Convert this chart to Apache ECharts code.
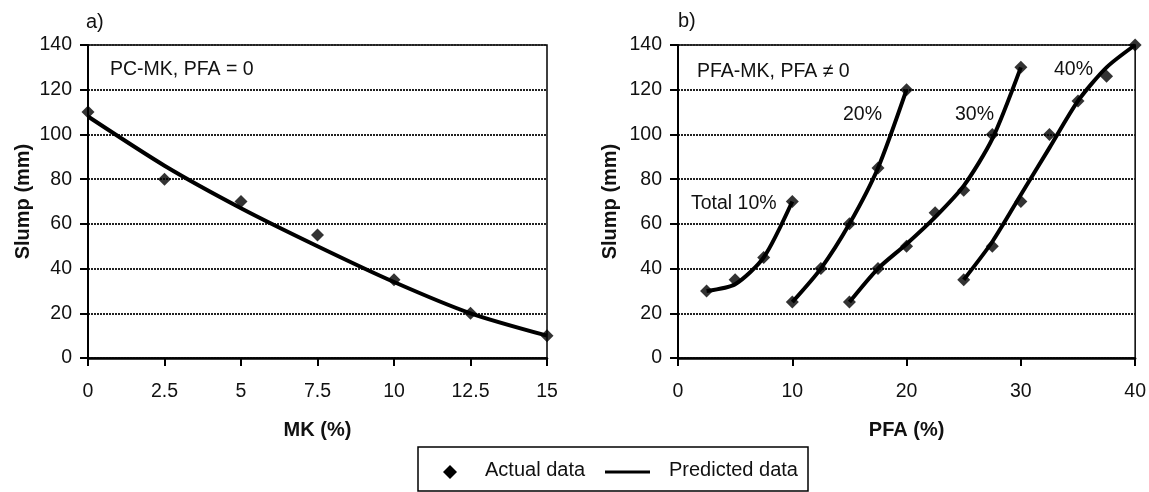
<!DOCTYPE html>
<html>
<head>
<meta charset="utf-8">
<script src="https://cdn.jsdelivr.net/npm/echarts@6/dist/echarts.min.js"></script>
<style>
html,body{margin:0;padding:0;background:#fff;}
#c{width:1149px;height:492px;}
</style>
</head>
<body>
<div id="c"></div>
<script>
// ---------- data ----------
// (a) PC-MK, PFA = 0
const mkX = [0, 2.5, 5, 7.5, 10, 12.5, 15];
const mkActual = [110, 80, 70, 55, 35, 20, 10];
const mkPredicted = [108, 86, 67, 50, 34, 20, 10];

// (b) PFA-MK, PFA != 0
const t10X = [2.5, 5, 7.5, 10];
const t10Actual = [30, 35, 45, 70];
const t10Predicted = [30, 33, 45, 70];

const t20X = [10, 12.5, 15, 17.5, 20];
const t20Actual = [25, 40, 60, 85, 120];
const t20Predicted = [25, 40, 60, 85, 120];

const t30X = [15, 17.5, 20, 22.5, 25, 27.5, 30];
const t30Actual = [25, 40, 50, 65, 75, 100, 130];
const t30Predicted = [25, 40, 51, 63, 77, 98, 130];

const t40X = [25, 27.5, 30, 32.5, 35, 37.5, 40];
const t40Actual = [35, 50, 70, 100, 115, 126, 140];
const t40Predicted = [35, 52, 73, 94, 115, 130, 140];

const panelLabels = ['a)', 'b)'];
const boxLabels = ['PC-MK, PFA = 0', 'PFA-MK, PFA \u2260 0'];
const curveLabels = ['Total 10%', '20%', '30%', '40%'];
const legendNames = ['Actual data', 'Predicted data'];
const axisNames = ['MK (%)', 'PFA (%)', 'Slump (mm)'];

// ---------- helpers ----------
const FONT = '"Liberation Sans", Arial, sans-serif';
const pair = (xs, ys) => xs.map((x, i) => [x, ys[i]]);

function yAxis(gridIndex) {
  return {
    type: 'value', gridIndex, min: 0, max: 140, interval: 20,
    name: axisNames[2], nameLocation: 'middle', nameGap: gridIndex === 0 ? 55 : 58,
    nameTextStyle: { fontFamily: FONT, fontSize: 20, fontWeight: 'bold', color: '#111' },
    axisLine: { show: true, lineStyle: { color: '#000', width: 2 } },
    axisTick: { show: true, length: 8, inside: false, lineStyle: { color: '#000', width: 2 } },
    axisLabel: { fontFamily: FONT, fontSize: 19.5, color: '#111', margin: 16 },
    splitLine: { show: true, lineStyle: { color: '#222', width: 2, type: [2, 1] } }
  };
}
function xAxis(gridIndex, max, interval, name) {
  return {
    type: 'value', gridIndex, min: 0, max, interval,
    name, nameLocation: 'middle', nameGap: 62,
    nameTextStyle: { fontFamily: FONT, fontSize: 20, fontWeight: 'bold', color: '#111' },
    axisLine: { show: true, onZero: false, lineStyle: { color: '#000', width: 2.5 } },
    axisTick: { show: true, length: 8, lineStyle: { color: '#000', width: 2 } },
    axisLabel: { fontFamily: FONT, fontSize: 19.5, color: '#111', margin: 24 },
    splitLine: { show: false }
  };
}
function lineSeries(xi, data) {
  return {
    name: legendNames[1], type: 'line', xAxisIndex: xi, yAxisIndex: xi,
    data, smooth: 0.25, showSymbol: false, symbol: 'none',
    lineStyle: { color: '#000', width: 4 }, z: 3, silent: true
  };
}
function scatterSeries(xi, data) {
  return {
    name: legendNames[0], type: 'scatter', xAxisIndex: xi, yAxisIndex: xi,
    data, symbol: 'diamond', symbolSize: 13,
    itemStyle: { color: '#000' }, z: 4, silent: true
  };
}
function txt(left, top, text, size) {
  return { type: 'text', left, top, style: { text, fontFamily: FONT, fontSize: size || 19.5, fill: '#111' }, z: 10 };
}

const chart = echarts.init(document.getElementById('c'), null, { renderer: 'canvas' });
chart.setOption({
  animation: false,
  backgroundColor: '#fff',
  grid: [
    { left: 88, right: 602, top: 45, bottom: 134, show: true, borderColor: '#000', borderWidth: 1.5, backgroundColor: 'transparent' },
    { left: 678, right: 9, top: 45, bottom: 134, show: true, borderColor: '#000', borderWidth: 1.5, backgroundColor: 'transparent' }
  ],
  xAxis: [xAxis(0, 15, 2.5, axisNames[0]), xAxis(1, 40, 10, axisNames[1])],
  yAxis: [yAxis(0), yAxis(1)],
  series: [
    lineSeries(0, pair(mkX, mkPredicted)),
    scatterSeries(0, pair(mkX, mkActual)),
    lineSeries(1, pair(t10X, t10Predicted)),
    lineSeries(1, pair(t20X, t20Predicted)),
    lineSeries(1, pair(t30X, t30Predicted)),
    lineSeries(1, pair(t40X, t40Predicted)),
    scatterSeries(1, pair(t10X, t10Actual)),
    scatterSeries(1, pair(t20X, t20Actual)),
    scatterSeries(1, pair(t30X, t30Actual)),
    scatterSeries(1, pair(t40X, t40Actual))
  ],
  graphic: [
    txt(86, 12, panelLabels[0], 20),
    txt(678, 11, panelLabels[1], 20),
    txt(110, 60, boxLabels[0]),
    txt(697, 62, boxLabels[1]),
    txt(691, 194, curveLabels[0]),
    txt(843, 105, curveLabels[1]),
    txt(955, 105, curveLabels[2]),
    txt(1054, 60, curveLabels[3]),
    // legend box
    { type: 'rect', shape: { x: 418, y: 447, width: 390, height: 44 }, style: { fill: '#fff', stroke: '#000', lineWidth: 1.5 }, z: 10 },
    { type: 'polygon', shape: { points: [[450, 465], [457, 472], [450, 479], [443, 472]] }, style: { fill: '#000' }, z: 11 },
    txt(485, 460, legendNames[0], 20),
    { type: 'line', shape: { x1: 605, y1: 472, x2: 650, y2: 472 }, style: { stroke: '#000', lineWidth: 3 }, z: 11 },
    txt(669, 460, legendNames[1], 20)
  ]
});
</script>
</body>
</html>
